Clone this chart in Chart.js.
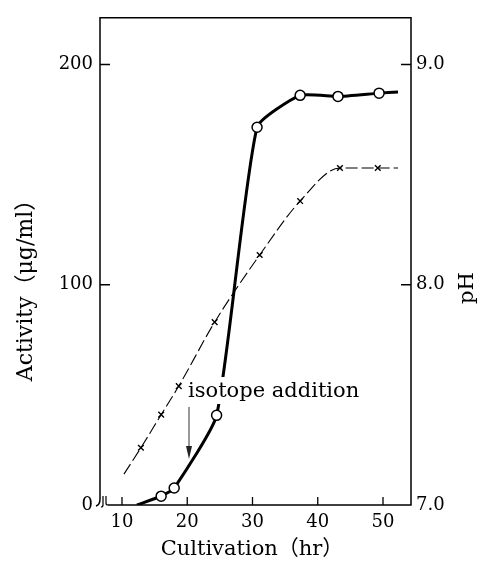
<!DOCTYPE html>
<html>
<head>
<meta charset="utf-8">
<script src="https://cdn.jsdelivr.net/npm/chart.js@4"></script>
<style>
  html, body { margin: 0; padding: 0; background: #fff; }
  #wrap { width: 483px; height: 563px; }
</style>
</head>
<body>
<div id="wrap"><canvas id="chart"></canvas></div>
<script>
// activity curve: first and last entries are the curve ends (no marker)
const activityHours = [12.3, 16, 18, 24.5, 30.7, 37.3, 43.1, 49.4, 52.3];
const activityValues = [0, 4, 7.7, 40.7, 171.5, 186, 185.5, 187, 187.5];

// pH curve: first and last entries are the curve ends (no marker)
const phHours = [10.3, 12.9, 16, 18.7, 24.2, 31.1, 37.3, 43.4, 49.2, 52.3];
const phValues = [7.14, 7.26, 7.41, 7.54, 7.83, 8.135, 8.38, 8.53, 8.53, 8.53];

const hourTicks = [10, 20, 30, 40, 50];
const activityTicks = [0, 100, 200];
const phTicks = [7, 8, 9];

const serif = "'DejaVu Serif', 'Noto Sans CJK JP', serif";
const tickFont = { family: serif, size: 18 };

function toPoints(xs, ys) {
  return xs.map((x, i) => ({ x, y: ys[i] }));
}

function endsHidden(size) {
  return (ctx) => {
    const n = ctx.dataset.data.length;
    return ctx.dataIndex === 0 || ctx.dataIndex === n - 1 ? 0 : size;
  };
}

const framePlugin = {
  id: "frame",
  afterDatasetsDraw(chart) {
    const { ctx, chartArea: a, scales } = chart;
    ctx.save();
    ctx.strokeStyle = "#000";
    ctx.lineWidth = 1.5;

    // frame with axis break at lower left
    ctx.beginPath();
    ctx.moveTo(108, a.bottom);
    ctx.lineTo(a.right, a.bottom);
    ctx.lineTo(a.right, a.top);
    ctx.lineTo(a.left, a.top);
    ctx.lineTo(a.left, a.bottom - 6);
    ctx.quadraticCurveTo(a.left, a.bottom, a.left - 4, a.bottom + 1);
    ctx.stroke();
    ctx.lineWidth = 1.2;
    ctx.beginPath();
    ctx.moveTo(103, a.bottom - 9);
    ctx.lineTo(103, a.bottom);
    ctx.quadraticCurveTo(103, a.bottom + 2, 101, a.bottom + 2);
    ctx.moveTo(106, a.bottom - 9);
    ctx.lineTo(106, a.bottom - 2);
    ctx.quadraticCurveTo(106, a.bottom, 108, a.bottom);
    ctx.stroke();

    // inward tick marks
    ctx.lineWidth = 1.3;
    ctx.beginPath();
    activityTicks.slice(1).forEach((v) => {
      const y = scales.y.getPixelForValue(v);
      ctx.moveTo(a.left, y);
      ctx.lineTo(a.left + 10, y);
    });
    phTicks.slice(1).forEach((v) => {
      const y = scales.ph.getPixelForValue(v);
      ctx.moveTo(a.right, y);
      ctx.lineTo(a.right - 10, y);
    });
    hourTicks.forEach((v) => {
      const x = scales.x.getPixelForValue(v);
      ctx.moveTo(x, a.bottom);
      ctx.lineTo(x, a.bottom - 8);
    });
    ctx.stroke();

    // annotation
    ctx.fillStyle = "#fff";
    ctx.fillRect(186, 377, 176, 27);
    ctx.fillStyle = "#000";
    ctx.font = "21px " + serif;
    ctx.textAlign = "left";
    ctx.textBaseline = "alphabetic";
    ctx.fillText("isotope addition", 188, 397);

    ctx.strokeStyle = "#333";
    ctx.lineWidth = 1;
    ctx.beginPath();
    ctx.moveTo(189, 407);
    ctx.lineTo(189, 450);
    ctx.stroke();
    ctx.fillStyle = "#222";
    ctx.beginPath();
    ctx.moveTo(186, 446);
    ctx.lineTo(192, 446);
    ctx.lineTo(189, 459);
    ctx.closePath();
    ctx.fill();

    // axis titles
    ctx.fillStyle = "#000";
    ctx.textAlign = "center";
    ctx.textBaseline = "middle";
    ctx.font = "21px " + serif;
    ctx.fillText("Cultivation（hr）", 252, 550);

    ctx.font = "22px " + serif;
    ctx.save();
    ctx.translate(26, 285);
    ctx.rotate(-Math.PI / 2);
    ctx.fillText("Activity（μg/ml）", 0, 0);
    ctx.restore();

    ctx.font = "21px " + serif;
    ctx.save();
    ctx.translate(468, 288);
    ctx.rotate(-Math.PI / 2);
    ctx.fillText("pH", 0, 0);
    ctx.restore();

    ctx.restore();
  },
};

new Chart(document.getElementById("chart"), {
  type: "line",
  data: {
    datasets: [
      {
        label: "Activity",
        data: toPoints(activityHours, activityValues),
        yAxisID: "y",
        borderColor: "#000",
        borderWidth: 3,
        tension: 0.17,
        pointStyle: "circle",
        pointRadius: endsHidden(5),
        pointBackgroundColor: "#fff",
        pointBorderColor: "#000",
        pointBorderWidth: 1.5,
      },
      {
        label: "pH",
        data: toPoints(phHours, phValues),
        yAxisID: "ph",
        borderColor: "#000",
        borderWidth: 1.1,
        borderDash: [12, 4],
        cubicInterpolationMode: "monotone",
        pointStyle: "crossRot",
        pointRadius: endsHidden(4),
        pointBorderColor: "#000",
        pointBorderWidth: 1.4,
      },
    ],
  },
  options: {
    responsive: true,
    maintainAspectRatio: false,
    animation: false,
    layout: { padding: { top: 15, left: 0, right: 0, bottom: 0 } },
    plugins: {
      legend: { display: false },
      tooltip: { enabled: false },
    },
    scales: {
      x: {
        type: "linear",
        min: 6.63,
        max: 54.29,
        grid: { display: false, drawTicks: false, tickLength: 0 },
        border: { display: false },
        afterBuildTicks: (s) => { s.ticks = hourTicks.map((v) => ({ value: v })); },
        afterFit: (s) => { s.height = 58; },
        ticks: { color: "#000", font: tickFont, padding: 7, maxRotation: 0 },
      },
      y: {
        position: "left",
        min: 0,
        max: 221.2,
        grid: { display: false, drawTicks: false, tickLength: 0 },
        border: { display: false },
        afterBuildTicks: (s) => { s.ticks = activityTicks.map((v) => ({ value: v })); },
        afterFit: (s) => { s.width = 100; },
        ticks: { color: "#000", font: tickFont, padding: 7 },
      },
      ph: {
        position: "right",
        min: 7,
        max: 9.212,
        grid: { display: false, drawTicks: false, tickLength: 0 },
        border: { display: false },
        afterBuildTicks: (s) => { s.ticks = phTicks.map((v) => ({ value: v })); },
        afterFit: (s) => { s.width = 72; },
        ticks: { color: "#000", font: tickFont, padding: 5, callback: (v) => Number(v).toFixed(1) },
      },
    },
  },
  plugins: [framePlugin],
});
</script>
</body>
</html>
